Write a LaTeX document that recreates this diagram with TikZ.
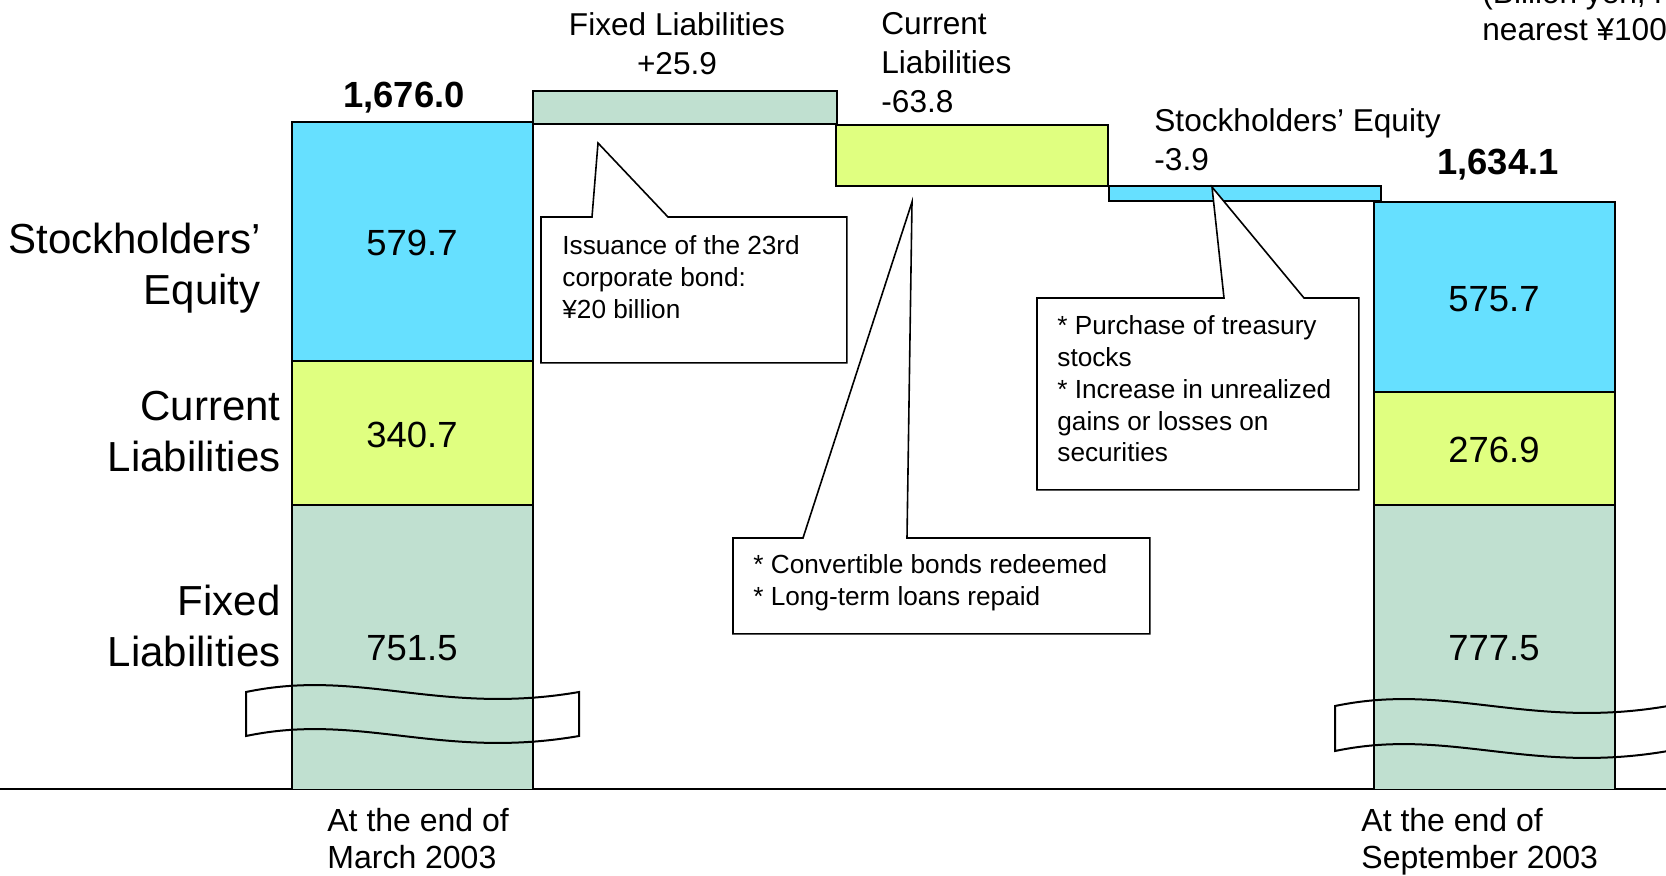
\documentclass[tikz,border=0pt]{standalone}
\usepackage{fontspec}
\setmainfont{Liberation Sans}
\definecolor{seq}{RGB}{102,224,255}
\definecolor{cur}{RGB}{224,255,128}
\definecolor{fix}{RGB}{192,224,208}
\newcommand\fsBig{\fontsize{21}{25.5}\selectfont}
\newcommand\fsNum{\fontsize{18.2}{21}\selectfont}
\newcommand\fsLab{\fontsize{15.8}{19.5}\selectfont}
\newcommand\fsBot{\fontsize{16}{18.5}\selectfont}
\newcommand\fsCall{\fontsize{13.1}{15.85}\selectfont}
\begin{document}
\begin{tikzpicture}[x=0.5pt,y=-0.5pt,
  segbox/.style={draw=black,line width=1pt},
  num/.style={font=\fsNum,inner sep=0pt},
  tot/.style={font=\fsNum\bfseries,inner sep=0pt},
  side/.style={font=\fsBig,inner sep=0pt,align=right,anchor=east},
  lab/.style={font=\fsLab,inner sep=0pt},
  bot/.style={font=\fsBot,inner sep=0pt,align=left,anchor=west,text depth=3.5pt},
  calltext/.style={font=\fsCall,inner sep=0pt,align=left,anchor=west},
  callout/.style={draw=black,line width=0.8pt,fill=white,line join=miter},
  wave/.style={draw=black,line width=1pt}]
\useasboundingbox (0,0) rectangle (1666,875);
\clip (0,0) rectangle (1666,875);

% baseline
\coordinate (gl) at (0,789);
\coordinate (gr) at (1666,789);
\draw[line width=0.8pt] (gl) -- (gr);

% left bar
\fill[seq] (292,122) rectangle (533,361);
\fill[cur] (292,361) rectangle (533,505);
\fill[fix] (292,505) rectangle (533,789);
\draw[segbox] (292,789) -- (292,122) -- (533,122) -- (533,789);
\draw[segbox] (292,361) -- (533,361);
\draw[segbox] (292,505) -- (533,505);

% right bar
\fill[seq] (1374,202) rectangle (1615,392);
\fill[cur] (1374,392) rectangle (1615,505);
\fill[fix] (1374,505) rectangle (1615,789);
\draw[segbox] (1374,789) -- (1374,202) -- (1615,202) -- (1615,789);
\draw[segbox] (1374,392) -- (1615,392);
\draw[segbox] (1374,505) -- (1615,505);

% delta bars
\draw[segbox,fill=fix] (533,91) rectangle (837,124);
\draw[segbox,fill=cur] (836,125) rectangle (1108,186);
\draw[segbox,fill=seq] (1109,186) rectangle (1381,201);

% wavy breaks
\draw[wave] (246,692) .. controls (360,668) and (440,716) .. (579,692)
  -- (579,736) .. controls (440,760) and (360,712) .. (246,736) -- cycle;
\draw[wave] (1335,706) .. controls (1449,682) and (1529,730) .. (1668,706)
  -- (1668,751) .. controls (1529,775) and (1449,727) .. (1335,751) -- cycle;

% numbers in bars
\node[num] (n1) at (412,243) {579.7};
\node[num] (n2) at (412,435) {340.7};
\node[num] (n3) at (412,648) {751.5};
\node[num] (n4) at (1494,299) {575.7};
\node[num] (n5) at (1494,450) {276.9};
\node[num] (n6) at (1494,648) {777.5};
\node[tot] (t1) at (404,98) {1,676.0};
\node[tot] (t2) at (1498,165) {1,634.1};

% side labels
\node[side] (s1) at (261,268) {Stockholders’\\Equity};
\node[side] (s2) at (281,432) {Current\\Liabilities};
\node[side] (s3) at (281,626) {Fixed\\Liabilities};

% change labels
\node[lab,align=center] (l1) at (677,44) {Fixed Liabilities\\+25.9};
\node[lab,align=left,anchor=west] (l2) at (881,63) {Current\\Liabilities\\-63.8};
\node[lab,align=left,anchor=west] (l3) at (1154,140) {Stockholders’ Equity\\-3.9};

% unit note (cut off at the edge, as in the reference)
\node[lab,anchor=base west] (u1) at (1482,3) {(Billion yen, rounded down to the};
\node[lab,anchor=base west] (u2) at (1482,40) {nearest ¥100 million)};

% bottom labels
\node[bot] (b1) at (327,842) {At the end of\\March 2003};
\node[bot] (b2) at (1361,842) {At the end of\\September 2003};

% callout 1
\coordinate (c1a) at (592,217);
\coordinate (c1t) at (598,143);
\coordinate (c1b) at (668,217);
\node[minimum width=152.5pt,minimum height=72.5pt,inner sep=0pt,anchor=north west] (c1) at (541,217) {};
\draw[callout] (c1a) -- (c1t) -- (c1b) -- (c1.north east) -- (c1.south east) -- (c1.south west) -- (c1.north west) -- cycle;
\node[calltext] (c1x) at (562,277) {Issuance of the 23rd\\corporate bond:\\¥20 billion};

% callout 2
\coordinate (c2a) at (803,538);
\coordinate (c2t) at (912,202);
\coordinate (c2b) at (907,538);
\node[minimum width=208pt,minimum height=47.5pt,inner sep=0pt,anchor=north west] (c2) at (733,538) {};
\draw[callout] (c2a) -- (c2t) -- (c2b) -- (c2.north east) -- (c2.south east) -- (c2.south west) -- (c2.north west) -- cycle;
\node[calltext] (c2x) at (753,583) {* Convertible bonds redeemed\\* Long-term loans repaid};

% callout 3
\coordinate (c3a) at (1224,298);
\coordinate (c3t) at (1212,187);
\coordinate (c3b) at (1304,298);
\node[minimum width=160.5pt,minimum height=95.5pt,inner sep=0pt,anchor=north west] (c3) at (1037,298) {};
\draw[callout] (c3a) -- (c3t) -- (c3b) -- (c3.north east) -- (c3.south east) -- (c3.south west) -- (c3.north west) -- cycle;
\node[calltext] (c3x) at (1057,389) {* Purchase of treasury\\stocks\\* Increase in unrealized\\gains or losses on\\securities};
\end{tikzpicture}
\end{document}
